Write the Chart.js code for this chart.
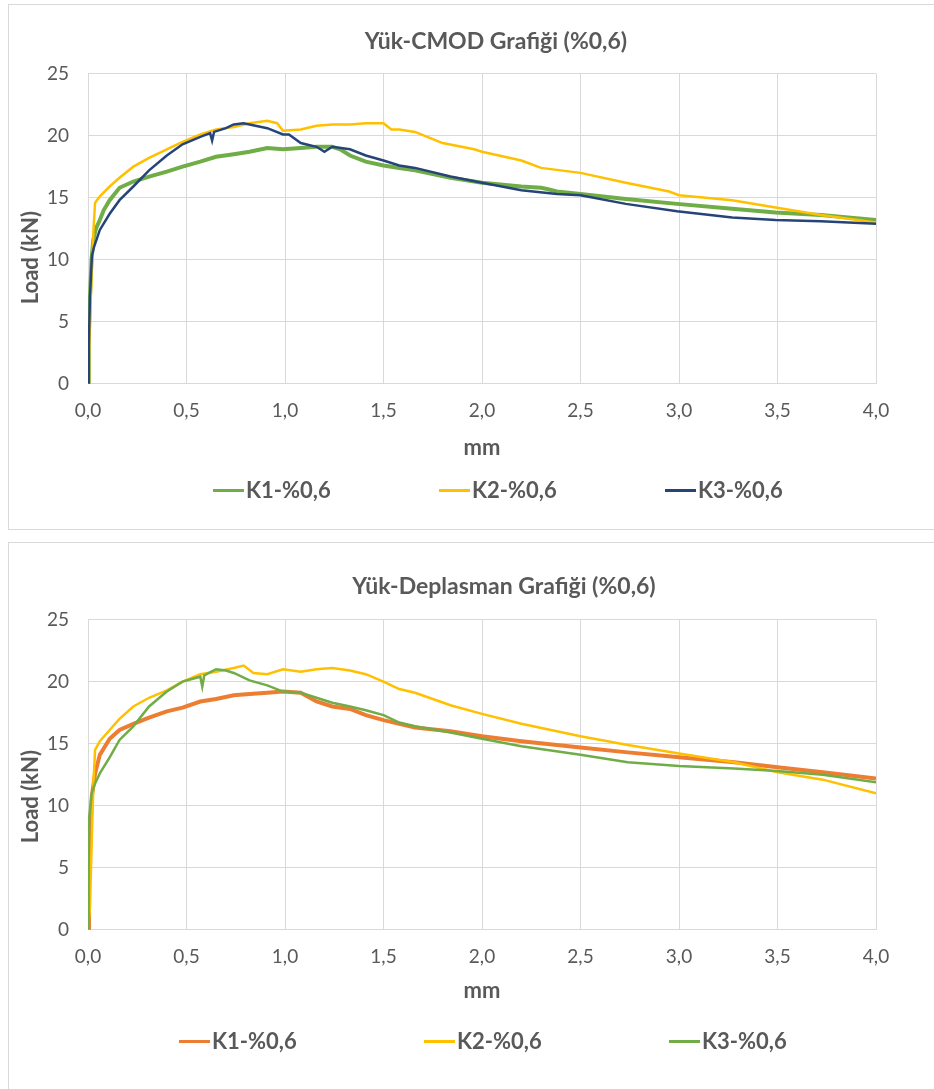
<!DOCTYPE html>
<html>
<head>
<meta charset="utf-8">
<script src="https://cdn.jsdelivr.net/npm/chart.js@4.4.1/dist/chart.umd.min.js"></script>
<style>
  body { margin: 0; background: #fff; width: 934px; height: 1089px; overflow: hidden; position: relative; font-family: Lato, sans-serif; }
  .box { position: absolute; left: 8px; width: 1000px; border: 1px solid #d9d9d9; background: #fff; }
  #box1 { top: 4px; height: 524px; }
  #box2 { top: 542px; height: 560px; }
  .box canvas { position: absolute; left: 0; top: 0; }
  .legend { position: absolute; display: flex; align-items: center; }
  .legend .item { display: flex; align-items: center; font: bold 22px Lato, sans-serif; line-height: 26px; color: #595959; white-space: nowrap; }
  .legend .swatch { display: inline-block; width: 31px; height: 3px; margin-right: 2px; }
</style>
</head>
<body>
<div class="box" id="box1"><canvas id="cmodChart" width="974" height="524"></canvas></div>
<div class="box" id="box2"><canvas id="deplChart" width="990" height="545"></canvas></div>
<div class="legend" id="cmodLegend" style="left:213px; top:477px;"></div>
<div class="legend" id="deplLegend" style="left:179px; top:1028px;"></div>
<script>
// ------------------ Data ------------------
const xTicks = [0, 0.5, 1, 1.5, 2, 2.5, 3, 3.5, 4];
const yTicks = [0, 5, 10, 15, 20, 25];
const seriesLabels = ['K1-%0,6', 'K2-%0,6', 'K3-%0,6'];

// Yük-CMOD
const cmodK1X = [0, 0.004, 0.01, 0.018, 0.027, 0.04, 0.06, 0.08, 0.11, 0.16, 0.23, 0.31, 0.40, 0.48, 0.57, 0.65, 0.74, 0.82, 0.91, 0.99, 1.08, 1.16, 1.24, 1.28, 1.33, 1.41, 1.50, 1.58, 1.66, 1.84, 2.00, 2.20, 2.30, 2.33, 2.38, 2.50, 2.73, 2.99, 3.27, 3.49, 3.72, 4.00];
const cmodK1Y = [0, 3.5, 7, 10, 11.6, 12.5, 13.2, 14.0, 14.8, 15.8, 16.3, 16.7, 17.1, 17.5, 17.9, 18.3, 18.5, 18.7, 19.0, 18.9, 19.0, 19.1, 19.1, 18.9, 18.4, 17.9, 17.6, 17.4, 17.2, 16.6, 16.2, 15.9, 15.8, 15.7, 15.5, 15.3, 14.9, 14.5, 14.1, 13.8, 13.6, 13.2];
const cmodK2X = [0, 0.005, 0.012, 0.02, 0.028, 0.036, 0.06, 0.11, 0.16, 0.23, 0.31, 0.40, 0.48, 0.57, 0.65, 0.74, 0.82, 0.91, 0.96, 0.99, 1.08, 1.16, 1.24, 1.33, 1.41, 1.50, 1.54, 1.58, 1.66, 1.80, 1.96, 2.00, 2.20, 2.30, 2.50, 2.73, 2.95, 3.00, 3.27, 3.49, 3.72, 4.00];
const cmodK2Y = [0, 2.5, 6, 9.5, 12.5, 14.6, 15.1, 15.9, 16.6, 17.5, 18.2, 18.9, 19.5, 20.1, 20.5, 20.7, 21.0, 21.2, 21.0, 20.4, 20.5, 20.8, 20.9, 20.9, 21.0, 21.0, 20.5, 20.5, 20.3, 19.4, 18.9, 18.7, 18.0, 17.4, 17.0, 16.2, 15.5, 15.2, 14.8, 14.2, 13.6, 13.0];
const cmodK3X = [0, 0.004, 0.01, 0.02, 0.03, 0.06, 0.11, 0.16, 0.23, 0.31, 0.40, 0.48, 0.57, 0.62, 0.63, 0.64, 0.70, 0.74, 0.79, 0.85, 0.91, 0.99, 1.02, 1.08, 1.16, 1.20, 1.24, 1.33, 1.41, 1.50, 1.58, 1.66, 1.84, 2.00, 2.20, 2.38, 2.50, 2.73, 2.99, 3.27, 3.49, 3.72, 4.00];
const cmodK3Y = [0, 3, 7, 10.3, 11.0, 12.4, 13.7, 14.8, 15.9, 17.2, 18.4, 19.3, 19.9, 20.2, 19.6, 20.3, 20.6, 20.9, 21.0, 20.8, 20.6, 20.1, 20.1, 19.4, 19.1, 18.7, 19.1, 18.9, 18.4, 18.0, 17.6, 17.4, 16.7, 16.2, 15.6, 15.3, 15.2, 14.5, 13.9, 13.4, 13.2, 13.1, 12.9];

// Yük-Deplasman
const deplK1X = [0, 0.005, 0.012, 0.019, 0.036, 0.06, 0.11, 0.16, 0.23, 0.31, 0.40, 0.48, 0.57, 0.65, 0.74, 0.82, 0.91, 0.99, 1.08, 1.16, 1.24, 1.33, 1.41, 1.50, 1.58, 1.66, 1.84, 2.00, 2.20, 2.50, 2.74, 3.00, 3.28, 3.50, 3.73, 4.00];
const deplK1Y = [0, 3.5, 7.5, 10.7, 12.6, 14.1, 15.4, 16.1, 16.6, 17.1, 17.6, 17.9, 18.4, 18.6, 18.9, 19.0, 19.1, 19.2, 19.1, 18.4, 18.0, 17.8, 17.3, 16.9, 16.6, 16.3, 16.0, 15.6, 15.2, 14.7, 14.3, 13.9, 13.5, 13.1, 12.7, 12.2];
const deplK2X = [0, 0.01, 0.019, 0.028, 0.036, 0.06, 0.11, 0.16, 0.23, 0.31, 0.40, 0.48, 0.57, 0.65, 0.74, 0.79, 0.84, 0.91, 0.99, 1.08, 1.16, 1.24, 1.33, 1.41, 1.50, 1.58, 1.66, 1.84, 2.00, 2.20, 2.50, 2.74, 3.00, 3.28, 3.50, 3.73, 4.00];
const deplK2Y = [0, 1.8, 7.2, 12, 14.5, 15.2, 16.1, 17.0, 18.0, 18.7, 19.3, 20.0, 20.6, 20.8, 21.1, 21.3, 20.7, 20.6, 21.0, 20.8, 21.0, 21.1, 20.9, 20.6, 20.0, 19.4, 19.1, 18.1, 17.4, 16.6, 15.6, 14.9, 14.2, 13.5, 12.7, 12.1, 11.0];
const deplK3X = [0, 0.003, 0.006, 0.019, 0.036, 0.06, 0.11, 0.16, 0.23, 0.31, 0.40, 0.48, 0.57, 0.58, 0.59, 0.65, 0.70, 0.74, 0.82, 0.91, 0.99, 1.08, 1.16, 1.24, 1.33, 1.41, 1.50, 1.58, 1.66, 1.84, 2.00, 2.20, 2.50, 2.74, 3.00, 3.28, 3.50, 3.73, 4.00];
const deplK3Y = [0, 5, 9.1, 11.0, 11.8, 12.6, 13.9, 15.3, 16.4, 18.0, 19.2, 20.0, 20.4, 19.6, 20.5, 21.0, 20.9, 20.7, 20.1, 19.7, 19.2, 19.1, 18.7, 18.3, 18.0, 17.7, 17.3, 16.7, 16.4, 15.9, 15.4, 14.8, 14.1, 13.5, 13.2, 13.0, 12.8, 12.5, 11.9];

// ------------------ Helpers ------------------
const textGray = '#595959';
const gridGray = '#d9d9d9';

const toPoints = (xs, ys) => xs.map((x, i) => ({ x: x, y: ys[i] }));
const commaNum = v => v.toFixed(1).replace('.', ',');

// rotated y axis title, sits a bit below the plot's middle like in Excel
const yTitlePlugin = {
    id: 'yTitle',
    afterDraw(chart, args, opts) {
        const { ctx, chartArea } = chart;
        ctx.save();
        ctx.translate(opts.x, (chartArea.top + chartArea.bottom) / 2 + opts.shift);
        ctx.rotate(-Math.PI / 2);
        ctx.font = 'bold 22px Lato';
        ctx.fillStyle = textGray;
        ctx.textAlign = 'center';
        ctx.textBaseline = 'middle';
        ctx.fillText(opts.text, 0, 0);
        ctx.restore();
    }
};

function makeChart(canvasId, legendId, title, series, cfg) {
    const datasets = series.map((s, i) => ({
        label: seriesLabels[i],
        data: toPoints(s.x, s.y),
        borderColor: s.color,
        backgroundColor: s.color,
        borderWidth: s.width,
        pointRadius: 0,
        tension: 0,
        order: 3 - i
    }));

    const chart = new Chart(document.getElementById(canvasId), {
        type: 'line',
        data: { datasets: datasets },
        options: {
            responsive: false,
            animation: false,
            layout: { padding: { left: 0, right: 0, top: 0, bottom: cfg.bottomPad } },
            plugins: {
                legend: { display: false },
                tooltip: { enabled: false },
                title: {
                    display: true,
                    text: title,
                    color: textGray,
                    font: { family: 'Lato', size: 23, weight: 'bold' },
                    padding: { top: cfg.titleTop, bottom: cfg.titleBottom }
                },
                yTitle: { text: 'Load (kN)', x: 22, shift: cfg.yShift }
            },
            scales: {
                x: {
                    type: 'linear',
                    min: xTicks[0],
                    max: xTicks[xTicks.length - 1],
                    afterBuildTicks: s => { s.ticks = xTicks.map(v => ({ value: v })); },
                    grid: { color: gridGray, drawTicks: true, tickLength: cfg.tickLen, tickColor: 'transparent' },
                    border: { color: gridGray },
                    ticks: {
                        color: textGray,
                        font: { family: 'Lato', size: 19 },
                        padding: cfg.tickPad,
                        maxRotation: 0,
                        callback: v => commaNum(v)
                    },
                    title: {
                        display: true,
                        text: 'mm',
                        color: textGray,
                        font: { family: 'Lato', size: 22, weight: 'bold' },
                        padding: { top: 0, bottom: 0 }
                    }
                },
                y: {
                    min: yTicks[0],
                    max: yTicks[yTicks.length - 1],
                    afterBuildTicks: s => { s.ticks = yTicks.map(v => ({ value: v })); },
                    afterFit: s => { s.width = 79; },
                    grid: { color: gridGray, drawTicks: false },
                    border: { color: gridGray },
                    ticks: {
                        color: textGray,
                        font: { family: 'Lato', size: 19 },
                        padding: 19
                    }
                },
                // empty right-hand box, only keeps the plot where Excel puts it
                spacer: {
                    position: 'right',
                    display: true,
                    grid: { display: false, drawTicks: false },
                    border: { display: false },
                    ticks: { display: false },
                    afterFit: s => { s.width = cfg.rightWidth; }
                }
            }
        },
        plugins: [yTitlePlugin]
    });

    // html legend under the chart
    const legend = document.getElementById(legendId);
    chart.data.datasets.forEach(ds => {
        const item = document.createElement('div');
        item.className = 'item';
        item.style.width = cfg.legendStep + 'px';
        const sw = document.createElement('span');
        sw.className = 'swatch';
        sw.style.background = ds.borderColor;
        item.appendChild(sw);
        item.appendChild(document.createTextNode(ds.label));
        legend.appendChild(item);
    });
    return chart;
}

// ------------------ Charts ------------------
makeChart('cmodChart', 'cmodLegend', 'Yük-CMOD Grafiği (%0,6)', [
    { x: cmodK1X, y: cmodK1Y, color: '#70AD47', width: 4 },
    { x: cmodK2X, y: cmodK2Y, color: '#FFC000', width: 2.5 },
    { x: cmodK3X, y: cmodK3Y, color: '#264478', width: 2.5 }
], { titleTop: 23, titleBottom: 18, tickLen: 4, tickPad: 12, bottomPad: 68, rightWidth: 107, yShift: 29, legendStep: 226 });

makeChart('deplChart', 'deplLegend', 'Yük-Deplasman Grafiği (%0,6)', [
    { x: deplK1X, y: deplK1Y, color: '#ED7D31', width: 4 },
    { x: deplK2X, y: deplK2Y, color: '#FFC000', width: 2.5 },
    { x: deplK3X, y: deplK3Y, color: '#70AD47', width: 2.5 }
], { titleTop: 30, titleBottom: 19, tickLen: 7, tickPad: 9, bottomPad: 84, rightWidth: 123, yShift: 22, legendStep: 245 });
</script>
</body>
</html>
